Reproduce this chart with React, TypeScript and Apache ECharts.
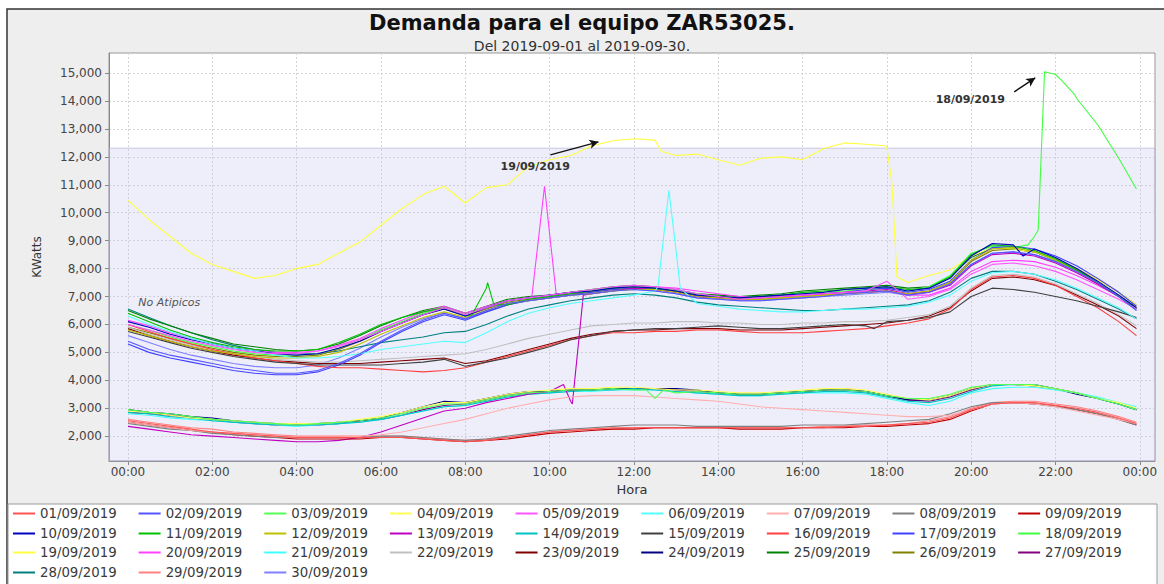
import React, { useEffect, useRef } from "react";
import * as echarts from "echarts";

const TITLE = "Demanda para el equipo ZAR53025.";
const SUBTITLE = "Del 2019-09-01 al 2019-09-30.";

const HOURS = [0, 0.5, 1, 1.5, 2, 2.5, 3, 3.5, 4, 4.5, 5, 5.5, 6, 6.5, 7, 7.5, 8, 8.5, 9, 9.5, 10, 10.5, 11, 11.5, 12, 12.5, 13, 13.5, 14, 14.5, 15, 15.5, 16, 16.5, 17, 17.5, 18, 18.5, 19, 19.5, 20, 20.5, 21, 21.5, 22, 22.5, 23, 23.5, 23.92];

const X_TICKS = [0, 2, 4, 6, 8, 10, 12, 14, 16, 18, 20, 22, 24];
const Y_TICKS = [2000, 3000, 4000, 5000, 6000, 7000, 8000, 9000, 10000, 11000, 12000, 13000, 14000, 15000];
const Y_MIN = 1110;
const Y_MAX = 15720;
const X_MIN = -0.45;
const X_MAX = 24.36;
const BAND_TOP = 12312;

const DAYS = ["01/09/2019", "02/09/2019", "03/09/2019", "04/09/2019", "05/09/2019", "06/09/2019", "07/09/2019", "08/09/2019", "09/09/2019", "10/09/2019", "11/09/2019", "12/09/2019", "13/09/2019", "14/09/2019", "15/09/2019", "16/09/2019", "17/09/2019", "18/09/2019", "19/09/2019", "20/09/2019", "21/09/2019", "22/09/2019", "23/09/2019", "24/09/2019", "25/09/2019", "26/09/2019", "27/09/2019", "28/09/2019", "29/09/2019", "30/09/2019"];

const COLORS = ["#FF5555", "#5555FF", "#55FF55", "#FFFF55", "#FF55FF", "#55FFFF", "#FFAFAF", "#808080", "#C00000", "#0000C0", "#00C000", "#C0C000", "#C000C0", "#00C0C0", "#404040", "#FF4040", "#4040FF", "#40FF40", "#FFFF40", "#FF40FF", "#40FFFF", "#C0C0C0", "#800000", "#000080", "#008000", "#808000", "#800080", "#008080", "#FF8080", "#8080FF"];

const d01 = [2550,2450,2350,2250,2150,2100,2050,2000,1950,1950, 1950,1950,1950,1950,1900,1850,1800,1850,1950,2050, 2150,2200,2250,2300,2300,2300,2300,2300,2300,2300, 2300,2300,2300,2300,2350,2350,2400,2450,2500,2650, 2950,3150,3200,3200,3100,3000,2850,2650,2450];
const d02 = [5400,5100,4900,4750,4600,4450,4350,4250,4250,4350, 4600,4950,5400,5800,6150,6400,6200,6500,6750,6850, 6950,7050,7100,7200,7250,7200,7100,6950,6900,6850, 6850,6900,6950,7000,7100,7150,7200,7050,7150,7450, 8150,8550,8600,8500,8250,7900,7500,7000,6500];
const d03 = [2950,2850,2800,2700,2600,2550,2500,2450,2400,2450, 2500,2550,2650,2800,3000,3150,3150,3300,3450,3550, 3600,3650,3650,3700,3650,3350,3550,3600,3550,3500, 3500,3550,3600,3650,3650,3600,3450,3350,3350,3500, 3750,3850,3850,3850,3700,3550,3350,3150,2950];
const d04 = [2900,2850,2750,2650,2600,2550,2500,2450,2450,2450, 2500,2600,2700,2850,3050,3200,3200,3350,3500,3600, 3650,3700,3700,3750,3750,3700,3650,3650,3600,3550, 3550,3600,3650,3700,3700,3650,3500,3350,3300,3450, 3700,3850,3850,3800,3700,3550,3350,3200,3000];
const d05 = [6000,5800,5600,5400,5250,5100,5000,4950,4950,5050, 5200,5450,5750,6050,6350,6600,6350,6600,6850,6950, 7050,7150,7250,7350,7400,7350,7250,7100,7000,6900, 6950,7000,7050,7100,7150,7200,7550,6900,7000,7250, 7800,8150,8200,8100,7900,7600,7250,6900,6550];
const d06 = [6300,6000,5750,5500,5300,5150,5050,4900,4800,4800, 4850,4950,5100,5200,5300,5400,5350,5700,6100,6400, 6600,6750,6850,6950,7050,7200,8650,6750,6650,6550, 6500,6450,6450,6500,6550,6550,6600,6650,6800,7050, 7550,7850,7900,7800,7600,7300,6950,6600,6200];
const d07 = [2500,2400,2300,2200,2150,2100,2050,2000,1950,1950, 1950,2000,2050,2150,2300,2450,2600,2800,3000,3150, 3300,3400,3450,3450,3450,3400,3350,3300,3250,3150, 3050,3000,2950,2900,2850,2800,2750,2700,2700,2750, 2950,3150,3200,3150,3050,2900,2750,2600,2450];
const d08 = [2450,2350,2250,2200,2100,2050,2000,1950,1950,1950, 1950,1950,2000,2000,1950,1900,1850,1900,2000,2100, 2200,2250,2300,2350,2400,2400,2400,2350,2350,2350, 2350,2350,2400,2400,2400,2450,2500,2550,2600,2800, 3050,3200,3200,3150,3050,2950,2800,2600,2400];
const d09 = [2500,2400,2300,2200,2150,2050,2000,1950,1900,1900, 1900,1900,1950,1950,1900,1850,1800,1850,1900,2000, 2100,2150,2200,2250,2250,2300,2300,2300,2300,2250, 2250,2250,2300,2300,2300,2350,2350,2400,2450,2600, 2900,3150,3200,3150,3100,2950,2800,2600,2400];
const d10 = [6100,5900,5650,5450,5300,5150,5050,4950,4900,4950, 5150,5400,5750,6050,6350,6550,6300,6600,6850,6950, 7050,7150,7200,7300,7350,7300,7200,7050,7000,6950, 7000,7050,7100,7150,7250,7300,7350,7200,7300,7650, 8450,8900,8850,8700,8400,8000,7550,7050,6600];
const d11 = [6400,6100,5800,5550,5350,5200,5100,5050,5050,5100, 5350,5650,6000,6250,6450,6600,6300,7300,6700,6900, 7000,7100,7200,7300,7350,7300,7200,7050,7000,6950, 7000,7050,7150,7200,7250,7300,7350,7250,7300,7700, 8500,8850,8800,8650,8350,7950,7500,7000,6550];
const d12 = [5800,5600,5400,5200,5050,4950,4850,4800,4800,4850, 5000,5300,5650,5950,6250,6450,6250,6500,6750,6850, 6950,7050,7100,7200,7250,7250,7150,7000,6950,6900, 6900,6950,7000,7050,7100,7150,7200,7100,7200,7500, 8300,8700,8750,8600,8300,7950,7500,7050,6600];
const d13 = [2350,2250,2150,2050,2000,1950,1900,1850,1800,1800, 1850,1950,2150,2400,2650,2900,3000,3200,3350,3500, 3600,3250,7100,7200,7300,7250,7150,7000,6950,6900, 6950,7000,7050,7100,7150,7200,7250,7100,7150,7400, 8100,8500,8550,8450,8200,7850,7450,7000,6550];
const d14 = [2850,2800,2700,2650,2550,2500,2450,2400,2400,2400, 2450,2500,2600,2750,2900,3050,3100,3250,3400,3500, 3550,3600,3650,3650,3700,3650,3600,3550,3500,3450, 3450,3500,3550,3600,3600,3550,3400,3250,3200,3350, 3600,3800,3850,3800,3700,3550,3350,3150,2950];
const d15 = [5750,5550,5350,5150,5000,4850,4750,4650,4600,4550, 4550,4550,4550,4600,4650,4750,4500,4650,4800,5000, 5200,5450,5600,5750,5800,5850,5850,5900,5950,5900, 5850,5850,5900,5950,6000,5950,6100,6150,6250,6450, 7000,7300,7250,7150,7000,6850,6650,6450,6250];
const d16 = [6000,5750,5500,5300,5100,4950,4800,4700,4600,4500, 4450,4450,4400,4350,4300,4350,4450,4650,4850,5050, 5250,5450,5600,5700,5700,5750,5750,5800,5800,5750, 5700,5700,5700,5750,5800,5850,5950,6050,6200,6550, 7250,7700,7750,7650,7400,7000,6600,6100,5600];
const d17 = [5300,5000,4800,4650,4500,4350,4250,4200,4200,4300, 4550,4900,5350,5750,6100,6350,6150,6450,6700,6850, 6950,7050,7150,7250,7300,7250,7150,7000,6950,6900, 6950,7000,7050,7100,7150,7250,7300,7150,7250,7550, 8300,8750,8800,8700,8450,8100,7650,7150,6650];
const d18 = [6000,5800,5550,5350,5200,5050,4950,4900,4900,4950, 5150,5450,5800,6100,6400,6600,6350,6600,6850,6950, 7050,7150,7250,7300,7350,7300,7200,7100,7000,6950, 7000,7050,7100,7150,7200,7250,7300,7200,7350,7750, 8550,8800,8750,9150,14950,14100,13150,11950,10850];
const d19 = [10450,9750,9150,8550,8150,7900,7650,7750,8000,8150, 8550,8950,9550,10150,10650,10950,10350,10900,11000,11650, 11900,12050,12400,12580,12650,12600,12050,12100,11900,11700, 11950,12000,11900,12300,12500,12450,12350,7500,7750,7950, 8450,8750,8700,8600,8350,8000,7600,7150,6700];
const d20 = [6150,5950,5700,5500,5300,5150,5050,5000,5000,5050, 5250,5500,5850,6150,6450,6650,6400,6650,6850,6950, 9250,7100,7200,7300,7350,7350,7300,7200,7100,7000, 7000,7000,7050,7100,7150,7150,7200,7050,7050,7300, 7900,8250,8300,8250,8050,7750,7400,7000,6600];
const d21 = [2800,2750,2650,2600,2550,2500,2450,2400,2350,2400, 2450,2500,2600,2750,2900,3050,3100,3250,3400,3500, 3550,3600,3600,3650,3650,3650,3600,3550,3500,3450, 3450,3500,3550,3550,3550,3500,3350,3200,3100,3250, 3550,3700,3750,3750,3650,3550,3400,3200,3050];
const d22 = [5900,5650,5450,5250,5100,4950,4850,4750,4700,4650, 4650,4700,4750,4800,4850,4900,4950,5100,5300,5500, 5650,5800,5950,6000,6050,6050,6100,6100,6050,6050, 6000,6000,6050,6050,6100,6100,6150,6250,6350,6650, 7300,7750,7800,7700,7450,7100,6750,6350,5950];
const d23 = [5850,5600,5400,5200,5050,4900,4800,4700,4650,4600, 4600,4600,4650,4700,4750,4800,4600,4700,4900,5100, 5300,5500,5650,5750,5800,5800,5850,5850,5850,5800, 5800,5800,5850,5900,5950,6000,6050,6150,6300,6600, 7200,7650,7700,7600,7400,7050,6700,6300,5850];
const d24 = [2950,2850,2800,2700,2650,2550,2500,2450,2450,2450, 2500,2550,2650,2850,3050,3250,3200,3350,3500,3600, 3600,3650,3650,3700,3700,3700,3700,3650,3550,3500, 3500,3550,3600,3650,3650,3600,3450,3300,3300,3450, 3700,3850,3850,3800,3700,3500,3350,3150,2950];
const d25 = [6500,6200,5950,5700,5500,5300,5200,5100,5050,5100, 5300,5600,5950,6250,6500,6650,6400,6650,6900,7000, 7050,7150,7250,7350,7400,7350,7250,7100,7050,7000, 7050,7100,7200,7250,7300,7350,7400,7300,7350,7700, 8400,8750,8700,8600,8300,7950,7500,7050,6600];
const d26 = [5900,5700,5500,5300,5150,5000,4900,4850,4850,4900, 5100,5400,5750,6050,6350,6550,6300,6550,6800,6900, 7000,7100,7150,7250,7300,7250,7150,7000,6950,6900, 6900,6950,7000,7050,7100,7150,7200,7100,7200,7500, 8250,8650,8700,8600,8350,8000,7600,7150,6700];
const d27 = [2850,2800,2750,2650,2600,2500,2450,2400,2400,2400, 2450,2550,2600,2750,2950,3100,3150,3300,3450,3550, 3600,3650,3650,3700,3700,3700,3650,3600,3550,3500, 3500,3550,3600,3650,3700,3600,3450,3300,3250,3400, 3650,3850,3850,3850,3700,3550,3350,3150,2950];
const d28 = [6550,6250,5950,5700,5450,5250,5100,5000,4950,4950, 5050,5200,5350,5450,5550,5700,5750,6000,6300,6550, 6700,6850,6950,7050,7100,7050,6950,6800,6700,6650, 6600,6550,6500,6500,6550,6600,6650,6700,6850,7150, 7650,7900,7900,7800,7550,7250,6900,6550,6200];
const d29 = [2600,2500,2400,2300,2250,2150,2100,2050,2000,2000, 2000,2000,2000,2000,1950,1900,1850,1900,1950,2050, 2150,2200,2250,2250,2300,2300,2300,2300,2300,2300, 2300,2300,2300,2350,2350,2400,2400,2450,2550,2700, 3000,3200,3250,3250,3150,3050,2900,2700,2500];
const d30 = [5600,5350,5100,4900,4750,4600,4500,4450,4450,4550, 4800,5150,5550,5900,6200,6400,6200,6450,6700,6850, 6950,7050,7100,7200,7250,7200,7100,6950,6900,6850, 6850,6900,6950,7000,7050,7100,7150,7050,7150,7450, 8150,8550,8600,8500,8250,7900,7450,7000,6550];

// extra readings (hour, kW) at spikes and sudden changes
const extra03 = [[12.3, 3650], [12.7, 3650]];
const extra06 = [[12.57, 7350], [12.83, 10800], [13.1, 7300]];
const extra10 = [[21.23, 8450]];
const extra11 = [[8.16, 6350], [8.53, 7500], [8.68, 6700]];
const extra13 = [[10.33, 3850], [10.54, 3150], [10.8, 7050]];
const extra15 = [[17.7, 5850]];
const extra18 = [[21.35, 8850], [21.59, 9380], [21.74, 15050], [22.14, 14750], [22.46, 14220]];
const extra19 = [[12.65, 12200], [17.95, 12400], [18.12, 11050], [18.24, 7700]];
const extra20 = [[9.58, 7000], [9.88, 10950], [10.16, 7050]];

const VALUES = [d01, d02, d03, d04, d05, d06, d07, d08, d09, d10, d11, d12, d13, d14, d15, d16, d17, d18, d19, d20, d21, d22, d23, d24, d25, d26, d27, d28, d29, d30];
const EXTRAS: Record<string, number[][]> = {
  "03/09/2019": extra03,
  "06/09/2019": extra06,
  "10/09/2019": extra10,
  "11/09/2019": extra11,
  "13/09/2019": extra13,
  "15/09/2019": extra15,
  "18/09/2019": extra18,
  "19/09/2019": extra19,
  "20/09/2019": extra20,
};

// annotations (hour, kW)
const NOTE_LABEL = "No Atipicos";
const NOTE_POS = [0.98, 6770];
const ANN19_TEXT = [9.66, 11640];
const ANN19_ARROW = [[10.02, 12070], [11.16, 12540]];
const ANN18_TEXT = [19.98, 14040];
const ANN18_ARROW = [[21.02, 14330], [21.52, 14830]];

const FONT = "DejaVu Sans";

function buildData(vals: number[], extra?: number[][]) {
  const pts = HOURS.map((h, i) => [h, vals[i]]);
  if (extra) extra.forEach((p) => pts.push([p[0], p[1]]));
  pts.sort((a, b) => a[0] - b[0]);
  return pts;
}

function hourLabel(v: number) {
  const h = Math.round(v) % 24;
  return (h < 10 ? "0" : "") + h + ":00";
}

export default function App() {
  const ref = useRef<HTMLDivElement>(null);

  useEffect(() => {
    document.body.style.margin = "0";
    if (!ref.current) return;
    const chart = echarts.init(ref.current, undefined, { renderer: "svg" });

    const series: any[] = DAYS.map((name, i) => ({
      name,
      type: "line",
      data: buildData(VALUES[i], EXTRAS[name]),
      showSymbol: false,
      symbol: "none",
      color: COLORS[i],
      lineStyle: { width: 1.1, color: COLORS[i] },
      emphasis: { disabled: true },
      animation: false,
    }));

    // band, note label
    series[0].markArea = {
      silent: true,
      itemStyle: { color: "rgba(198,198,238,0.30)", borderColor: "rgba(170,170,215,0.6)", borderWidth: 1 },
      data: [[{ yAxis: Y_MIN }, { yAxis: BAND_TOP }]],
    };
    series[0].markPoint = {
      silent: true,
      symbol: "circle",
      symbolSize: 0,
      label: {
        show: true,
        position: "inside",
        formatter: NOTE_LABEL,
        fontFamily: FONT,
        fontStyle: "italic",
        fontSize: 11,
        color: "#555",
      },
      data: [{ coord: NOTE_POS }],
    };

    const annLabel = (txt: string) => ({
      show: true,
      position: "inside",
      formatter: txt,
      fontFamily: FONT,
      fontWeight: "bold",
      fontSize: 11,
      color: "#333",
    });
    const arrowLine = (a: number[][]) => ({
      silent: true,
      symbol: ["none", "arrow"],
      symbolSize: [7, 9],
      lineStyle: { color: "#111", width: 1.4, type: "solid" },
      label: { show: false },
      data: [[{ coord: a[0] }, { coord: a[1] }]],
    });

    series[18].markPoint = {
      silent: true,
      symbol: "circle",
      symbolSize: 0,
      label: annLabel("19/09/2019"),
      data: [{ coord: ANN19_TEXT }],
    };
    series[18].markLine = arrowLine(ANN19_ARROW);
    series[17].markPoint = {
      silent: true,
      symbol: "circle",
      symbolSize: 0,
      label: annLabel("18/09/2019"),
      data: [{ coord: ANN18_TEXT }],
    };
    series[17].markLine = arrowLine(ANN18_ARROW);

    // first series drawn on top, as in the original renderer
    const drawOrder = series.slice().reverse();

    const legendRow = (names: string[], top: number) => ({
      data: names,
      left: 13,
      top,
      orient: "horizontal",
      icon: "rect",
      itemWidth: 22,
      itemHeight: 2,
      itemGap: 22,
      padding: 0,
      selectedMode: false,
      textStyle: { fontFamily: FONT, fontSize: 13.3, color: "#3a3a3a" },
    });

    chart.setOption({
      animation: false,
      backgroundColor: "#ffffff",
      textStyle: { fontFamily: FONT },
      title: [
        {
          text: TITLE,
          left: "center",
          top: 7,
          textStyle: { fontFamily: FONT, fontWeight: "bold", fontSize: 21, color: "#111" },
        },
        {
          text: SUBTITLE,
          left: "center",
          top: 34,
          textStyle: { fontFamily: FONT, fontWeight: "normal", fontSize: 14, color: "#333" },
        },
      ],
      graphic: [
        {
          type: "rect",
          z: -100,
          silent: true,
          shape: { x: 7, y: 9, width: 1170, height: 600 },
          style: { fill: "#EEEEEE", stroke: "#333", lineWidth: 1.5 },
        },
        {
          type: "rect",
          z: -90,
          silent: true,
          shape: { x: 8, y: 504, width: 1149, height: 100 },
          style: { fill: "#ffffff", stroke: "#999", lineWidth: 1 },
        },
      ],
      legend: [
        legendRow(DAYS.slice(0, 9), 507),
        legendRow(DAYS.slice(9, 18), 527),
        legendRow(DAYS.slice(18, 27), 546),
        legendRow(DAYS.slice(27, 30), 566),
      ],
      grid: {
        left: 109,
        right: 9,
        top: 53,
        bottom: 123,
        show: true,
        backgroundColor: "#ffffff",
        borderColor: "#999",
        borderWidth: 1,
      },
      xAxis: {
        type: "value",
        min: X_MIN,
        max: X_MAX,
        name: "Hora",
        nameLocation: "middle",
        nameGap: 20,
        nameTextStyle: { fontFamily: FONT, fontSize: 13, color: "#333" },
        axisLine: { show: true, onZero: false, lineStyle: { color: "#888" } },
        axisTick: { show: true, length: 4, lineStyle: { color: "#888" }, customValues: X_TICKS },
        axisLabel: {
          customValues: X_TICKS,
          formatter: hourLabel,
          fontFamily: FONT,
          fontSize: 12,
          color: "#444",
          margin: 5,
        },
        splitLine: { show: true, lineStyle: { color: "#D4D4D4", type: [2, 2] } },
      },
      yAxis: {
        type: "value",
        min: Y_MIN,
        max: Y_MAX,
        name: "KWatts",
        nameLocation: "middle",
        nameGap: 66,
        nameRotate: 90,
        nameTextStyle: { fontFamily: FONT, fontSize: 12, color: "#333" },
        axisLine: { show: true, onZero: false, lineStyle: { color: "#888" } },
        axisTick: { show: true, length: 4, lineStyle: { color: "#888" }, customValues: Y_TICKS },
        axisLabel: {
          customValues: Y_TICKS,
          formatter: (v: number) => v.toLocaleString("en-US"),
          fontFamily: FONT,
          fontSize: 12,
          color: "#444",
          margin: 7,
        },
        splitLine: { show: true, lineStyle: { color: "#D4D4D4", type: [2, 2] } },
      },
      series: drawOrder,
    });

    return () => {
      chart.dispose();
    };
  }, []);

  return <div ref={ref} style={{ width: 1164, height: 584 }} />;
}
